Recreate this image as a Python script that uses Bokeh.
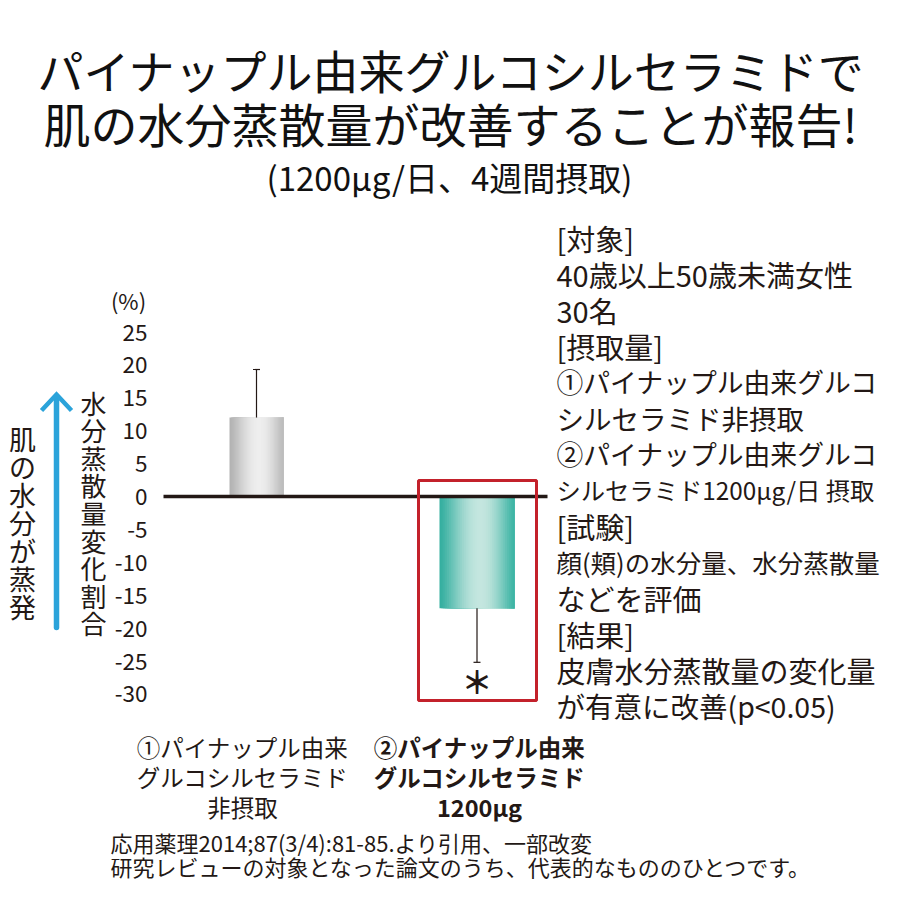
import numpy as np
from bokeh.plotting import figure
from bokeh.models import Range1d
from bokeh.core.properties import value
from bokeh.embed import file_html
from bokeh.resources import INLINE

# ---------------- data ----------------
groups = ["①パイナップル由来グルコシルセラミド非摂取", "②パイナップル由来グルコシルセラミド1200μg"]
mean_change = [12.0, -17.0]          # % change of transepidermal water loss
sd_change = [7.3, 8.2]
y_ticks = [25, 20, 15, 10, 5, 0, -5, -10, -15, -20, -25, -30]
tick_labels = [str(t) for t in y_ticks]
group_label_lines = [
    ["①パイナップル由来", "グルコシルセラミド", "非摂取"],
    ["②パイナップル由来", "グルコシルセラミド", "1200μg"],
]
title_lines = ["パイナップル由来グルコシルセラミドで", "肌の水分蒸散量が改善することが報告!"]
subtitle = "(1200μg/日、4週間摂取)"
info_lines = ["[対象]", "40歳以上50歳未満女性", "30名", "[摂取量]",
              "①パイナップル由来グルコ", "シルセラミド非摂取",
              "②パイナップル由来グルコ", "シルセラミド1200μg/日 摂取",
              "[試験]", "顔(頬)の水分量、水分蒸散量", "などを評価",
              "[結果]", "皮膚水分蒸散量の変化量", "が有意に改善(p<0.05)"]
y_axis_title = "水分蒸散量変化割合"
arrow_label = "肌の水分が蒸発"
unit_label = "(%)"
signif_mark = "＊"
footnotes = ["応用薬理2014;87(3/4):81-85.より引用、一部改変",
             "研究レビューの対象となった論文のうち、代表的なもののひとつです。"]

# ---------------- layout / style ----------------
W = H = 884
PX_PER_UNIT = 6.58
ZERO_Y = 496                      # canvas px from top
Y_TOP = ZERO_Y / PX_PER_UNIT
Y_BOTTOM = -(H - ZERO_Y) / PX_PER_UNIT
CAT0_X, CAT_STEP = 256.0, 220.5   # pixel centre of first group, spacing
cat_start = -CAT0_X / CAT_STEP
cat_end = cat_start + W / CAT_STEP
bar_widths = [54 / CAT_STEP, 75 / CAT_STEP]
FONT = "Noto Sans CJK JP"
INK = "#231815"

grad = [
    (np.array([0xb2, 0xb2, 0xb2]), np.array([0xee, 0xee, 0xee]), np.array([0xbb, 0xbb, 0xbb])),
    (np.array([0x33, 0xae, 0x9f]), np.array([0xc4, 0xe6, 0xdf]), np.array([0x3c, 0xb4, 0xa4])),
]

p = figure(width=W, height=H, output_backend="svg", toolbar_location=None,
           x_range=Range1d(0, W), y_range=Range1d(Y_BOTTOM, Y_TOP),
           x_axis_location=None, y_axis_location=None, min_border=0,
           outline_line_color=None, background_fill_color="white",
           border_fill_color="white")
p.grid.visible = False
p.extra_y_ranges = {"px": Range1d(H, 0)}
p.extra_x_ranges = {"cat": Range1d(cat_start, cat_end)}

# ---- bars drawn as vertical gradient stripes (each stripe runs to the right edge) ----
N = 40
for i, (v, w) in enumerate(zip(mean_change, bar_widths)):
    left_c, mid_c, right_c = grad[i]
    lefts, rights, cols = [], [], []
    for k in range(N):
        t = (k + 0.5) / N
        peak = 0.55
        if t < peak:
            f = t / peak
            c0 = left_c
        else:
            f = (1 - t) / (1 - peak)
            c0 = right_c
        f = np.sin(f * np.pi / 2) ** 1.3
        c = c0 + (mid_c - c0) * f
        cols.append("#%02x%02x%02x" % tuple(int(round(x)) for x in c))
        lefts.append(i - w / 2 + k * w / N)
        rights.append(i + w / 2)
    p.quad(left=lefts, right=rights, top=[max(v, 0)] * N, bottom=[min(v, 0)] * N,
           fill_color=cols, line_color=None, x_range_name="cat")

# ---- error bars (one-sided, away from zero) ----
cap = 7 / CAT_STEP
for i, (v, s) in enumerate(zip(mean_change, sd_change)):
    end = v + s if v >= 0 else v - s
    p.segment(x0=[i], y0=[v], x1=[i], y1=[end], line_color=INK, line_width=1.2,
              x_range_name="cat")
    p.segment(x0=[i - cap / 2], y0=[end], x1=[i + cap / 2], y1=[end],
              line_color=INK, line_width=1.2, x_range_name="cat")

# ---- zero line ----
p.segment(x0=[163], y0=[0], x1=[547], y1=[0], line_color=INK, line_width=3.5)

# ---- significance box + asterisk ----
p.quad(left=[418], right=[536], top=[480], bottom=[700], fill_color=None,
       line_color="#c3212b", line_width=3, y_range_name="px")
sig_y = mean_change[1] - sd_change[1] - 2.8
p.text(x=[1], y=[sig_y], text=[signif_mark], text_font=value(FONT), text_font_size="31px",
       text_font_style="bold", text_align="center", text_baseline="middle",
       text_color=INK, x_range_name="cat")

# ---- tick labels ----
p.text(x=[147] * len(y_ticks), y=y_ticks, text=tick_labels, text_font=value(FONT),
       text_font_size="22.5px", text_align="right", text_baseline="middle", text_color=INK)
p.text(x=[128], y=[299], text=[unit_label], text_font=value(FONT), text_font_size="22px",
       text_align="center", text_baseline="middle", text_color=INK, y_range_name="px")

# ---- vertical labels ----
p.text(x=[93], y=[512], text=["\n".join(y_axis_title)], text_font=value(FONT),
       text_font_size="26px", text_line_height=0.745, text_align="center",
       text_baseline="middle", text_color=INK, y_range_name="px")
p.text(x=[22], y=[522], text=["\n".join(arrow_label)], text_font=value(FONT),
       text_font_size="27px", text_line_height=0.716, text_align="center",
       text_baseline="middle", text_color=INK, y_range_name="px")

# ---- blue arrow ----
ARROW = "#2ba3da"
p.line(x=[56, 56], y=[627, 396], line_color=ARROW, line_width=5.5, line_cap="round",
       y_range_name="px")
p.line(x=[41, 56, 71], y=[410, 394, 410], line_color=ARROW, line_width=4.5,
       line_join="miter", y_range_name="px")

# ---- titles ----
p.text(x=[451], y=[68], text=[title_lines[0]], text_font=value(FONT),
       text_font_size="46px", text_align="center",
       text_baseline="middle", text_color="#111111", y_range_name="px")
p.text(x=[450], y=[122], text=[title_lines[1]], text_font=value(FONT),
       text_font_size="47px", text_align="center",
       text_baseline="middle", text_color="#111111", y_range_name="px")
p.text(x=[449], y=[176], text=[subtitle], text_font=value(FONT), text_font_size="33px",
       text_align="center", text_baseline="middle", text_color="#111111", y_range_name="px")

# ---- right info block ----
info_y = [237 + 36 * k for k in range(len(info_lines))]
info_sizes = ["29px", "29px", "29px", "29px", "26.8px", "27.5px", "26.8px", "24.3px",
              "29px", "25.5px", "29px", "29px", "29px", "28.5px"]
p.text(x=[556] * len(info_lines), y=info_y, text=info_lines, text_font=value(FONT),
       text_font_size=info_sizes, text_align="left", text_baseline="middle",
       text_color=INK, y_range_name="px")

# ---- group labels under chart ----
label_x = [242, 479]
label_styles = ["normal", "bold"]
for gx, lines, st in zip(label_x, group_label_lines, label_styles):
    p.text(x=[gx] * len(lines), y=[746 + 30 * k for k in range(len(lines))], text=lines,
           text_font=value(FONT), text_font_size="23.5px", text_font_style=st,
           text_align="center", text_baseline="middle", text_color=INK,
           y_range_name="px")

# ---- footnotes ----
p.text(x=[110, 110], y=[841, 865], text=footnotes, text_font=value(FONT),
       text_font_size="22px", text_align="left", text_baseline="middle",
       text_color=INK, y_range_name="px")

open("out.html", "w").write(file_html(p, INLINE))
